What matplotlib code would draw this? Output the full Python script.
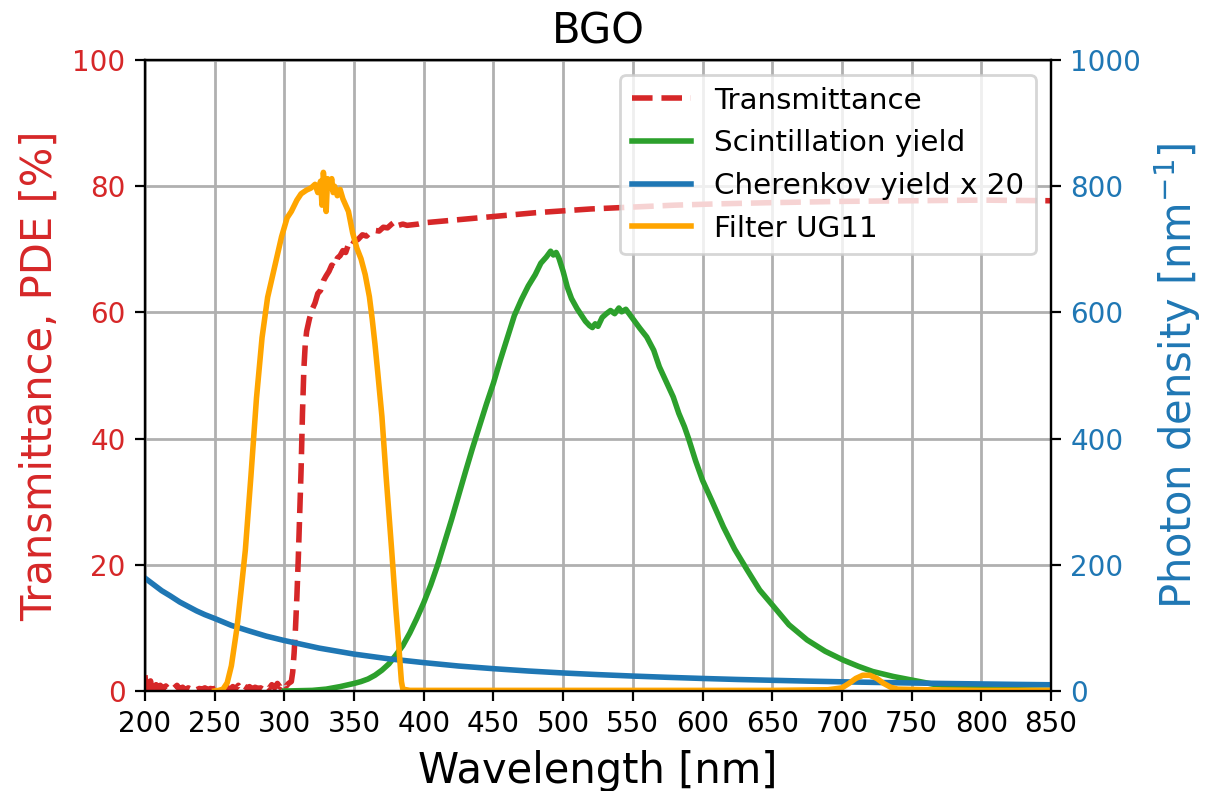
import numpy as np
from matplotlib import pyplot as plt

# transmittance of BGO [%] (left axis)
trans_wl = [200, 201, 202, 203, 204, 205, 206, 207, 208, 209, 211, 213, 215, 217, 219, 221,
            223, 225, 227, 229, 231, 233, 235, 237, 239, 241, 243, 245, 247, 249, 251, 253,
            255, 257, 259, 261, 263, 265, 267, 269, 271, 273, 275, 277, 279, 281, 283, 285,
            287, 289, 291, 293, 295, 297, 299, 301, 303, 305, 306, 307, 308, 309, 310, 311,
            312, 313, 314, 315, 316, 318, 320, 322, 324, 326, 328, 330, 332, 334, 336, 338,
            340, 342, 344, 346, 348, 350, 353, 356, 359, 362, 365, 368, 371, 374, 377, 380,
            382, 385, 388, 392, 396, 400, 420, 440, 460, 480, 500, 520, 550, 580, 610, 650,
            700, 750, 800, 850]
trans_val = [2.5, 0.4, 2.0, 0.7, 1.6, 0.3, 1.2, 0.5, 1.0, 0.3, 0.9, 0.4, 0.8, 0.3, 0.7, 0.5,
             0.9, 0.3, 0.6, 0.2, 0.5, 0.3, 0.6, 0.2, 0.4, 0.3, 0.5, 0.2, 0.4, 0.3, 0.5, 0.2,
             0.4, 0.3, 0.6, 0.2, 0.7, 0.4, 0.9, 0.3, 0.8, 0.5, 0.7, 0.3, 0.6, 0.4, 0.5, 0.2,
             0.8, 0.4, 1.0, 0.5, 1.2, 0.6, 1.3, 0.7, 1.2, 1.5, 3.0, 6.0, 10.0, 15.0, 21.0, 28.0,
             35.0, 44.0, 51.0, 55.0, 57.0, 59.0, 60.5, 61.5, 63.0, 63.5, 65.0, 65.8, 66.5, 67.5, 67.2, 68.6,
             69.0, 69.8, 69.5, 70.8, 70.4, 71.2, 71.6, 72.3, 72.1, 72.8, 73.0, 72.9, 73.5, 73.4, 74.0, 74.5,
             73.8, 74.0, 73.8, 73.9, 74.0, 74.2, 74.6, 75.0, 75.4, 75.8, 76.1, 76.4, 76.7, 77.0, 77.2, 77.4,
             77.6, 77.7, 77.8, 77.7]

# scintillation yield [nm^-1] (right axis)
scint_wl = [300, 310, 320, 330, 340, 350, 355, 360, 365, 370, 375, 380, 385, 390, 395, 400,
            405, 410, 415, 420, 425, 430, 435, 440, 445, 450, 455, 460, 465, 470, 475, 480,
            484, 488, 491, 493, 495, 497, 500, 503, 506, 510, 513, 516, 519, 521, 523, 525,
            528, 531, 534, 537, 540, 542, 545, 548, 550, 555, 560, 565, 569, 574, 579, 583,
            587, 590, 595, 600, 607, 615, 623, 632, 641, 651, 662, 675, 688, 701, 712, 722,
            737, 751, 765, 780, 800, 825, 850]
scint_val = [0, 0.5, 1, 3, 7, 12, 15, 19, 25, 33, 43, 57, 72, 92, 115, 140,
             168, 200, 236, 272, 310, 348, 385, 420, 455, 488, 525, 560, 595, 620, 642, 660,
             678, 688, 697, 691, 695, 686, 665, 640, 622, 606, 596, 586, 579, 576, 582, 578,
             592, 598, 603, 598, 607, 601, 605, 596, 590, 575, 561, 540, 514, 490, 466, 440,
             419, 400, 365, 334, 300, 260, 225, 192, 160, 134, 105, 81, 63, 49, 39, 31,
             23, 17, 11, 7, 4, 2, 1]

# Cherenkov yield x 20 [nm^-1] (right axis)
cher_wl = [200, 206, 212, 218, 225, 231, 237, 243, 250, 262, 275, 287, 300, 325, 350, 375,
           400, 425, 450, 475, 500, 525, 550, 575, 600, 625, 650, 675, 700, 725, 750, 775,
           800, 825, 850]
cher_val = [179, 169, 159, 151, 141, 134, 127, 121, 115, 104, 95, 87, 80, 68, 58.5, 51,
            45, 39.6, 35.4, 31.7, 28.6, 26, 23.7, 21.7, 19.9, 18.3, 17, 15.7, 14.6, 13.6, 12.7, 11.9,
            11.2, 10.5, 9.9]

# filter UG11 transmittance (x10, right axis)
filt_wl = [250, 253, 256, 259, 262, 266, 269, 272, 276, 280, 284, 288, 293, 298, 302, 305,
           309, 312, 316, 319, 322, 324, 326, 327, 328, 329, 330, 331, 332, 334, 335, 336,
           338, 340, 342, 344, 346, 349, 352, 355, 358, 361, 363, 365, 367, 370, 373, 377,
           380, 382, 383, 384, 385, 390, 450, 550, 650, 690, 700, 705, 710, 715, 720, 725,
           730, 735, 740, 760, 800, 850]
filt_val = [0, 1, 3, 13, 40, 100, 160, 223, 340, 464, 560, 624, 672, 720, 750, 760,
            778, 788, 794, 797, 803, 790, 808, 770, 822, 800, 760, 812, 798, 812, 790, 800,
            785, 795, 780, 770, 760, 726, 702, 685, 660, 625, 590, 550, 505, 435, 340, 223,
            130, 75, 44, 15, 3, 1, 1, 1, 1, 2, 5, 12, 20, 25, 25, 20,
            12, 6, 3, 2, 1, 1]

fig, ax1 = plt.subplots(figsize=(6.05, 3.955), dpi=200)
fig.subplots_adjust(left=0.1198, right=0.8686, top=0.9241, bottom=0.1264)

l1, = ax1.plot(trans_wl, trans_val, '--', color='tab:red', lw=2, label='Transmittance')
ax1.set_xlim(200, 850)
ax1.set_ylim(0, 100)
ax1.set_xticks(np.arange(200, 851, 50))
ax1.grid(True, lw=1)
ax1.set_xlabel('Wavelength [nm]', fontsize=15)
ax1.set_ylabel('Transmittance, PDE [%]', color='tab:red', fontsize=15)
ax1.tick_params(axis='y', labelcolor='tab:red')
ax1.set_title('BGO', fontsize=15)

ax2 = ax1.twinx()
l2, = ax2.plot(scint_wl, scint_val, color='tab:green', lw=2, label='Scintillation yield')
l3, = ax2.plot(cher_wl, cher_val, color='tab:blue', lw=2, label='Cherenkov yield x 20')
l4, = ax2.plot(filt_wl, filt_val, color='orange', lw=2, label='Filter UG11')
ax2.set_ylim(0, 1000)
ax2.set_ylabel('Photon density [nm$^{-1}$]', color='tab:blue', fontsize=15)
ax2.tick_params(axis='y', labelcolor='tab:blue')

lines = [l1, l2, l3, l4]
ax2.legend(lines, [l.get_label() for l in lines], loc='upper right', fontsize=10.6)

plt.savefig('out.png')
